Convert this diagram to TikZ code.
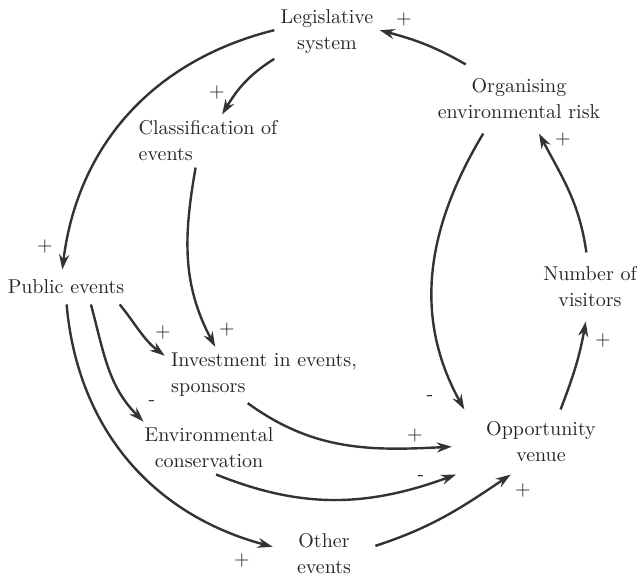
\documentclass[tikz,border=0pt]{standalone}
\usetikzlibrary{arrows.meta}
\begin{document}
\begin{tikzpicture}[x=0.5pt, y=-0.5pt,
    every node/.style={font=\fontsize{10}{13}\selectfont, text=black!85, inner sep=3pt, align=center},
    link/.style={draw=black!80, line width=1.2pt, -{Stealth[length=7.5pt, width=5pt]}},
    sign/.style={inner sep=0pt}]
  \useasboundingbox (0,0) rectangle (637,577);
  % factors of the loop
  \node (leg) at (327,32) {Legislative\\system};
  \node[inner ysep=7pt] (org) at (519,99) {Organising\\environmental risk};
  \node[align=left] (cls) at (208,141) {Classification of\\events};
  \node[inner ysep=5pt] (pub) at (66,287) {Public events};
  \node[inner ysep=7pt] (num) at (590,287) {Number of\\visitors};
  \node[align=left] (inv) at (264,375) {Investment in events,\\sponsors};
  \node (env) at (209,448) {Environmental\\conservation};
  \node[inner xsep=17pt, inner ysep=6pt] (opp) at (541,442) {Opportunity\\venue};
  \node[inner xsep=12pt] (oth) at (324,554) {Other\\events};

  % causal links: from/to/out/in
  \foreach \a/\b/\o/\n in
    {leg.178/pub.102/194/83,
     leg.207/cls.62/212/59,
     cls.245/inv.150/260/118,
     pub.342/inv.169/309/143,
     pub.325/env.158/285/135,
     pub.272/oth.172/275/165,
     inv.240/opp.183/324/183,
     env.285/opp.201/338/200,
     oth.9/opp.227/18/214,
     org.224/opp.157/239/119,
     opp.59/num.263/69/260,
     num.96/org.300/98/298,
     org.147/leg.2/150/345}
  {
    \draw[link] (\a) to[out=\o, in=\n] (\b);
  }

  % polarity of each link
  \foreach \x/\y/\s [count=\i] in
    {404/20/+, 217/93/+, 45/247/+, 163/332/+, 227/330/+, 152/403/-, 242/560/+,
     430/398/-, 415/435/+, 421/478/-, 523/490/+, 603/340/+, 563/140/+}
  {
    \node[sign] (sign\i) at (\x,\y) {\s};
  }
\end{tikzpicture}
\end{document}
